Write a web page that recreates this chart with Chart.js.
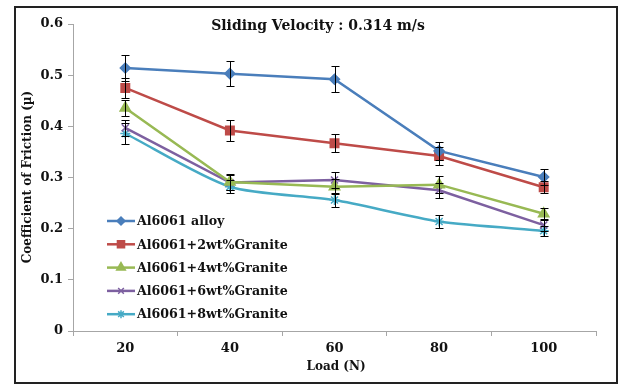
<!DOCTYPE html>
<html>
<head>
<meta charset="utf-8">
<script src="https://cdn.jsdelivr.net/npm/chart.js@4/dist/chart.umd.min.js"></script>
<style>
  html, body { margin: 0; padding: 0; background: #fff; }
  canvas { display: block; }
</style>
</head>
<body>
<canvas id="frictionChart" width="621" height="386"></canvas>
<script>
// Load values on the x axis
const loads = ['20', '40', '60', '80', '100'];

// Coefficient of friction per composition
const alloy = [0.514, 0.503, 0.492, 0.352, 0.301];
const granite2 = [0.475, 0.392, 0.367, 0.342, 0.281];
const granite4 = [0.436, 0.291, 0.282, 0.286, 0.229];
const granite6 = [0.397, 0.290, 0.295, 0.275, 0.207];
const granite8 = [0.386, 0.282, 0.256, 0.214, 0.196];

// Error bar half-widths
const alloyErr = [0.025, 0.025, 0.025, 0.017, 0.015];
const granite2Err = [0.02, 0.02, 0.018, 0.018, 0.012];
const granite4Err = [0.016, 0.015, 0.015, 0.016, 0.012];
const granite6Err = [0.016, 0.015, 0.015, 0.015, 0.012];
const granite8Err = [0.02, 0.013, 0.014, 0.012, 0.01];

const seriesNames = ['Al6061 alloy', 'Al6061+2wt%Granite', 'Al6061+4wt%Granite', 'Al6061+6wt%Granite', 'Al6061+8wt%Granite'];
const yTicks = [0, 0.1, 0.2, 0.3, 0.4, 0.5, 0.6];

const chartTitle = 'Sliding Velocity : 0.314 m/s';
const xTitle = 'Load (N)';
const yTitle = 'Coefficient of Friction (\u00b5)';

const serif = '"DejaVu Serif", serif';

const styles = [
  { color: '#4a7ebb', point: 'rectRot', radius: 5, tension: 0 },
  { color: '#be4b48', point: 'rect', radius: 6, tension: 0 },
  { color: '#98b954', point: 'triangle', radius: 6, tension: 0 },
  { color: '#7d60a0', point: 'crossRot', radius: 5, tension: 0 },
  { color: '#46aac5', point: 'star', radius: 5, tension: 0.25 }
];

const values = [alloy, granite2, granite4, granite6, granite8];
const errors = [alloyErr, granite2Err, granite4Err, granite6Err, granite8Err];

// Draws the error bars, frame, title, axis titles and the in-plot legend
const decorations = {
  id: 'decorations',
  beforeDraw(chart) {
    const ctx = chart.ctx;
    ctx.save();
    ctx.fillStyle = '#fff';
    ctx.fillRect(0, 0, chart.width, chart.height);
    ctx.restore();
  },
  afterDatasetsDraw(chart) {
    const ctx = chart.ctx;
    const x = chart.scales.x;
    const y = chart.scales.y;
    ctx.save();
    ctx.strokeStyle = '#000';
    ctx.lineWidth = 1;
    chart.data.datasets.forEach((ds, i) => {
      ds.data.forEach((v, j) => {
        const px = Math.round(x.getPixelForValue(j));
        const top = Math.round(y.getPixelForValue(v + errors[i][j]));
        const bot = Math.round(y.getPixelForValue(v - errors[i][j]));
        ctx.beginPath();
        ctx.moveTo(px + 0.5, top);
        ctx.lineTo(px + 0.5, bot);
        ctx.moveTo(px - 3.5, top + 0.5);
        ctx.lineTo(px + 4.5, top + 0.5);
        ctx.moveTo(px - 3.5, bot + 0.5);
        ctx.lineTo(px + 4.5, bot + 0.5);
        ctx.stroke();
      });
    });
    ctx.restore();
  },
  afterDraw(chart) {
    const ctx = chart.ctx;
    ctx.save();

    // outer frame
    ctx.strokeStyle = '#222';
    ctx.lineWidth = 2;
    ctx.strokeRect(15, 7, 602, 376);

    ctx.fillStyle = '#111';
    ctx.textAlign = 'center';
    ctx.textBaseline = 'middle';

    ctx.font = 'bold 14px ' + serif;
    ctx.fillText(chartTitle, 318, 26);

    ctx.font = 'bold 12px ' + serif;
    ctx.fillText(xTitle, 336, 367);

    ctx.save();
    ctx.translate(28, 177);
    ctx.rotate(-Math.PI / 2);
    ctx.font = 'bold 12px ' + serif;
    ctx.fillText(yTitle, 0, 0);
    ctx.restore();

    // legend
    ctx.textAlign = 'left';
    ctx.font = 'bold 12.6px ' + serif;
    chart.data.datasets.forEach((ds, i) => {
      const rowY = 221 + i * 23.3;
      ctx.strokeStyle = ds.borderColor;
      ctx.lineWidth = 2.5;
      ctx.beginPath();
      ctx.moveTo(107, rowY);
      ctx.lineTo(135, rowY);
      ctx.stroke();
      ctx.fillStyle = ds.backgroundColor;
      ctx.strokeStyle = ds.borderColor;
      ctx.lineWidth = 1.5;
      Chart.helpers.drawPoint(ctx, {
        pointStyle: ds.pointStyle,
        radius: ds.pointRadius - 1,
        borderWidth: 1.5,
        rotation: 0
      }, 121, rowY);
      ctx.fillStyle = '#111';
      ctx.fillText(ds.label, 137, rowY + 1);
    });
    ctx.restore();
  }
};

const datasets = values.map((data, i) => ({
  label: seriesNames[i],
  data: data,
  borderColor: styles[i].color,
  backgroundColor: styles[i].color,
  pointStyle: styles[i].point,
  pointRadius: styles[i].radius,
  pointBorderWidth: 1.5,
  borderWidth: 2.5,
  tension: styles[i].tension
}));

new Chart(document.getElementById('frictionChart'), {
  type: 'line',
  data: { labels: loads, datasets: datasets },
  options: {
    responsive: false,
    animation: false,
    layout: { padding: { top: 24, right: 25, left: 0, bottom: 0 } },
    plugins: {
      legend: { display: false },
      title: { display: false },
      tooltip: { enabled: false }
    },
    scales: {
      x: {
        offset: true,
        grid: {
          offset: true,
          drawOnChartArea: false,
          drawTicks: true,
          tickLength: 5,
          color: '#a6a6a6'
        },
        border: { color: '#a6a6a6', width: 1 },
        ticks: {
          color: '#111',
          padding: 5,
          font: { family: serif, size: 13, weight: 'bold' }
        },
        afterFit(scale) { scale.height = 55; }
      },
      y: {
        min: 0,
        max: 0.6,
        afterBuildTicks(scale) {
          scale.ticks = yTicks.map(v => ({ value: v }));
        },
        grid: {
          drawOnChartArea: false,
          drawTicks: true,
          tickLength: 5,
          color: '#a6a6a6'
        },
        border: { color: '#a6a6a6', width: 1 },
        ticks: {
          color: '#111',
          padding: 5,
          font: { family: serif, size: 13, weight: 'bold' },
          callback: (v) => v === 0 ? '0' : v.toFixed(1)
        },
        afterFit(scale) { scale.width = 73; }
      }
    }
  },
  plugins: [decorations]
});
</script>
</body>
</html>
